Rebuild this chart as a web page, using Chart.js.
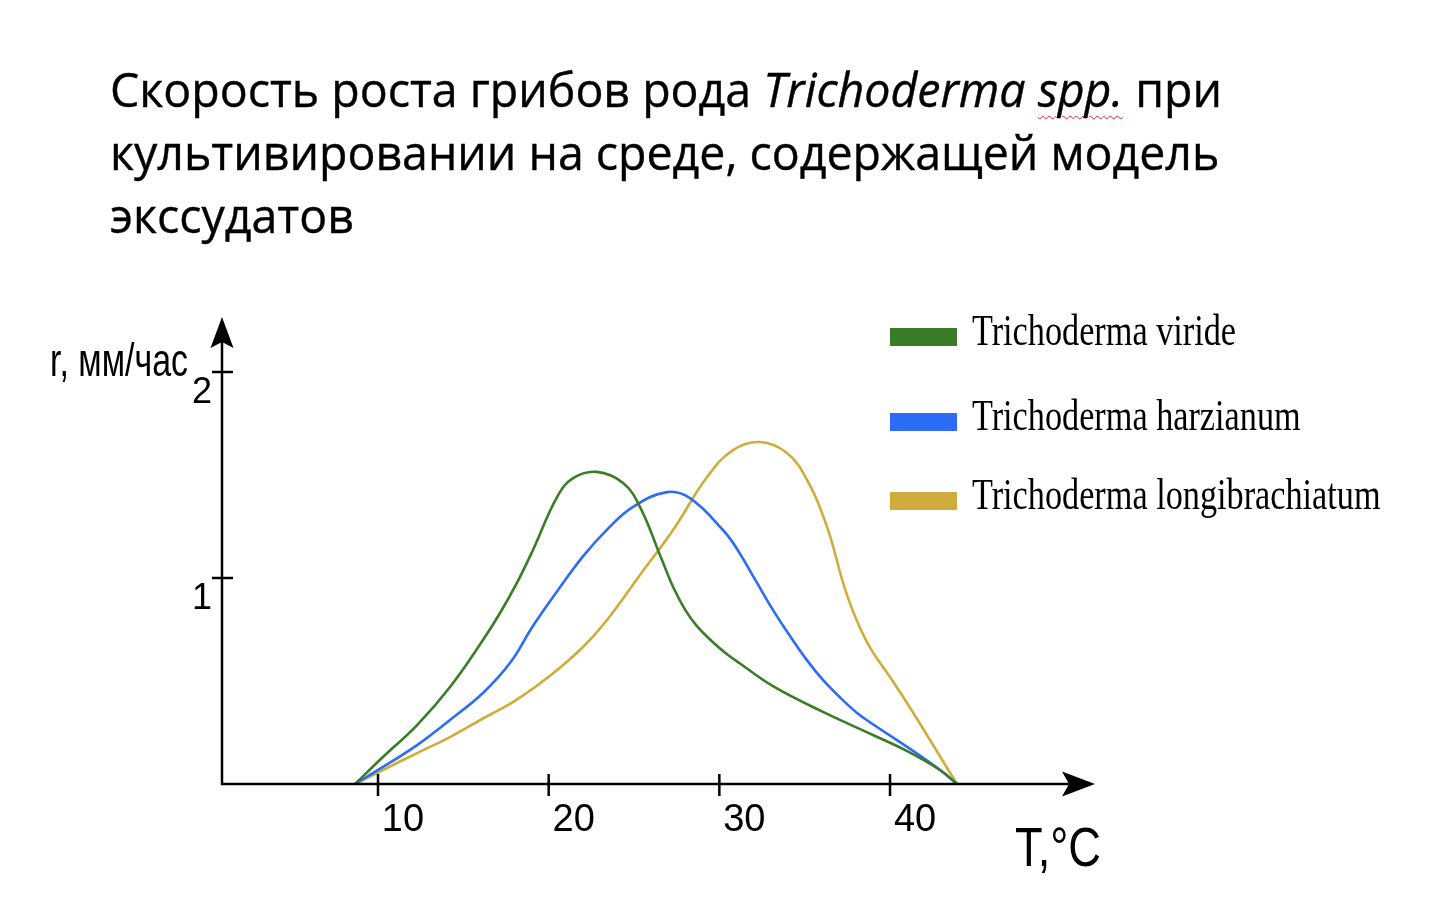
<!DOCTYPE html>
<html><head><meta charset="utf-8">
<script src="https://cdn.jsdelivr.net/npm/chart.js@4.4.1/dist/chart.umd.min.js"></script>
<style>
html,body{margin:0;padding:0;background:#fff;width:1438px;height:898px;overflow:hidden}
#c{position:absolute;left:0;top:0}
#title{position:absolute;left:110px;top:57px;font-family:"Open Sans",sans-serif;font-weight:400;font-size:48px;line-height:63px;color:#000;white-space:nowrap;transform-origin:0 0;-webkit-text-stroke:0.4px #000}
#title span{display:inline-block}
.sp{text-decoration:underline wavy #d22;text-decoration-thickness:1px;text-underline-offset:8px}
</style></head><body>
<canvas id="c" width="1438" height="898"></canvas>
<div id="title"><span id="l1">Скорость роста грибов рода <i>Trichoderma <span class="sp">spp.</span></i> при</span><br><span>культивировании на среде, содержащей модель</span><br><span>экссудатов</span></div>
<script>
// ---- data (T in °C, r in mm/h) ----
const seriesLabels = ['Trichoderma viride', 'Trichoderma harzianum', 'Trichoderma longibrachiatum'];
const seriesColors = ['#3a7d26', '#2c6cf6', '#cfac3b'];

const virideT = [8.65, 10.29, 12.29, 14.22, 16.15, 17.15, 18.14, 19.08, 20.49, 21.43, 22.83, 24.36, 25.35, 26.64, 27.30, 28.00, 28.70, 29.50, 30.30, 31.21, 33.14, 36.07, 39.00, 41.00, 42.93, 43.92];
const virideR = [0, 0.131, 0.286, 0.471, 0.699, 0.830, 0.976, 1.136, 1.393, 1.485, 1.515, 1.461, 1.345, 1.087, 0.955, 0.845, 0.765, 0.698, 0.640, 0.585, 0.475, 0.350, 0.238, 0.160, 0.068, 0];

const harzT = [8.65, 10.29, 12.29, 14.22, 16.15, 17.73, 19.08, 20.49, 22.01, 23.42, 24.94, 26.93, 28.28, 30.21, 31.00, 32.21, 33.14, 34.14, 35.14, 36.07, 37.07, 38.07, 39.00, 41.00, 42.93, 43.92];
const harzR = [0, 0.083, 0.189, 0.311, 0.442, 0.587, 0.767, 0.935, 1.105, 1.235, 1.345, 1.417, 1.388, 1.233, 1.146, 0.976, 0.845, 0.718, 0.600, 0.505, 0.420, 0.345, 0.290, 0.180, 0.068, 0];

const longiT = [8.65, 10.29, 12.29, 14.22, 16.15, 18.14, 20.08, 22.01, 23.42, 25.35, 27.29, 29.28, 30.80, 32.38, 33.96, 35.14, 36.31, 37.48, 38.65, 40.00, 41.00, 42.34, 43.92];
const longiR = [0, 0.068, 0.150, 0.228, 0.318, 0.410, 0.525, 0.665, 0.796, 1.015, 1.233, 1.490, 1.621, 1.660, 1.607, 1.476, 1.248, 0.917, 0.689, 0.519, 0.393, 0.214, 0];

const xTicks = [10, 20, 30, 40];
const yTicks = [1, 2];
const xTitle = 'T,°C';
const yTitle = 'r, мм/час';
const X_MIN = 0.86, X_MAX = 52.01, Y_MIN = 0, Y_MAX = 2.267;

// fit title width
(function(){
  const t = document.getElementById('title');
  const w = document.getElementById('l1').getBoundingClientRect().width;
  t.style.transform = 'scaleX(' + (1112 / w) + ')';
})();

const pts = (T, R) => T.map((t, i) => ({x: t, y: R[i]}));
const allSeries = [pts(virideT, virideR), pts(harzT, harzR), pts(longiT, longiR)];

const axesPlugin = {
  id: 'axesPlugin',
  afterDatasetsDraw(chart) {
    const ctx = chart.ctx, a = chart.chartArea;
    const xs = chart.scales.x, ys = chart.scales.y;
    const x0 = a.left, y0 = ys.getPixelForValue(0);
    ctx.save();
    ctx.strokeStyle = '#000'; ctx.fillStyle = '#000'; ctx.lineWidth = 2.5;
    ctx.beginPath();
    ctx.moveTo(x0, y0 + 1); ctx.lineTo(x0, a.top + 20);
    ctx.moveTo(x0 - 1, y0); ctx.lineTo(a.right - 20, y0);
    ctx.stroke();
    // tick marks
    xTicks.forEach(v => { const p = xs.getPixelForValue(v); ctx.beginPath(); ctx.moveTo(p, y0 - 10); ctx.lineTo(p, y0 + 12); ctx.stroke(); });
    yTicks.forEach(v => { const p = ys.getPixelForValue(v); ctx.beginPath(); ctx.moveTo(x0 - 10, p); ctx.lineTo(x0 + 11, p); ctx.stroke(); });
    // arrows
    ctx.beginPath();
    ctx.moveTo(x0, a.top); ctx.lineTo(x0 + 11.5, a.top + 31); ctx.lineTo(x0, a.top + 25); ctx.lineTo(x0 - 11.5, a.top + 31); ctx.closePath(); ctx.fill();
    ctx.beginPath();
    ctx.moveTo(a.right, y0); ctx.lineTo(a.right - 33, y0 - 12.5); ctx.lineTo(a.right - 26, y0); ctx.lineTo(a.right - 33, y0 + 12.5); ctx.closePath(); ctx.fill();
    // axis titles (condensed)
    ctx.textBaseline = 'alphabetic'; ctx.textAlign = 'left';
    ctx.font = '46px "Liberation Sans"';
    let w = ctx.measureText(yTitle).width;
    ctx.save(); ctx.translate(50, 376); ctx.scale(138 / w, 1); ctx.fillText(yTitle, 0, 0); ctx.restore();
    ctx.font = '56px "Liberation Sans"';
    w = ctx.measureText(xTitle).width;
    ctx.save(); ctx.translate(1015, 866); ctx.scale(86 / w, 1); ctx.fillText(xTitle, 0, 0); ctx.restore();
    // legend
    const tops = [328, 413, 492];
    ctx.font = '44px "Liberation Serif"';
    const sx = 264 / ctx.measureText(chart.data.datasets[0].label).width;
    chart.data.datasets.forEach((ds, i) => {
      ctx.fillStyle = ds.borderColor;
      ctx.fillRect(890, tops[i], 67, 18);
      ctx.fillStyle = '#000';
      ctx.save(); ctx.translate(972, tops[i] + 17); ctx.scale(sx, 1); ctx.fillText(ds.label, 0, 0); ctx.restore();
    });
    ctx.restore();
  }
};

new Chart(document.getElementById('c'), {
  type: 'line',
  data: {
    datasets: allSeries.map((d, i) => ({
      label: seriesLabels[i], data: d, borderColor: seriesColors[i], backgroundColor: seriesColors[i],
      borderWidth: 2.6, pointRadius: 0, tension: 0.4, fill: false, clip: false
    }))
  },
  options: {
    responsive: false, animation: false, devicePixelRatio: 1,
    layout: {padding: {left: 162, right: 343, top: 317, bottom: 54}},
    plugins: {legend: {display: false}, tooltip: {enabled: false}},
    scales: {
      x: {
        type: 'linear', min: X_MIN, max: X_MAX,
        afterFit(s) { s.height = 60; },
        afterBuildTicks(s) { s.ticks = xTicks.map(v => ({value: v})); },
        grid: {display: false, drawTicks: false}, border: {display: false},
        ticks: {font: {family: 'Liberation Sans', size: 38}, color: '#000', padding: 14, labelOffset: 25, maxRotation: 0, autoSkip: false}
      },
      y: {
        type: 'linear', min: Y_MIN, max: Y_MAX,
        afterFit(s) { s.width = 60; },
        afterBuildTicks(s) { s.ticks = yTicks.map(v => ({value: v})); },
        grid: {display: false, drawTicks: false}, border: {display: false},
        ticks: {font: {family: 'Liberation Sans', size: 36}, color: '#000', padding: 10, labelOffset: 21, autoSkip: false}
      }
    }
  },
  plugins: [axesPlugin]
});
</script>
</body></html>
